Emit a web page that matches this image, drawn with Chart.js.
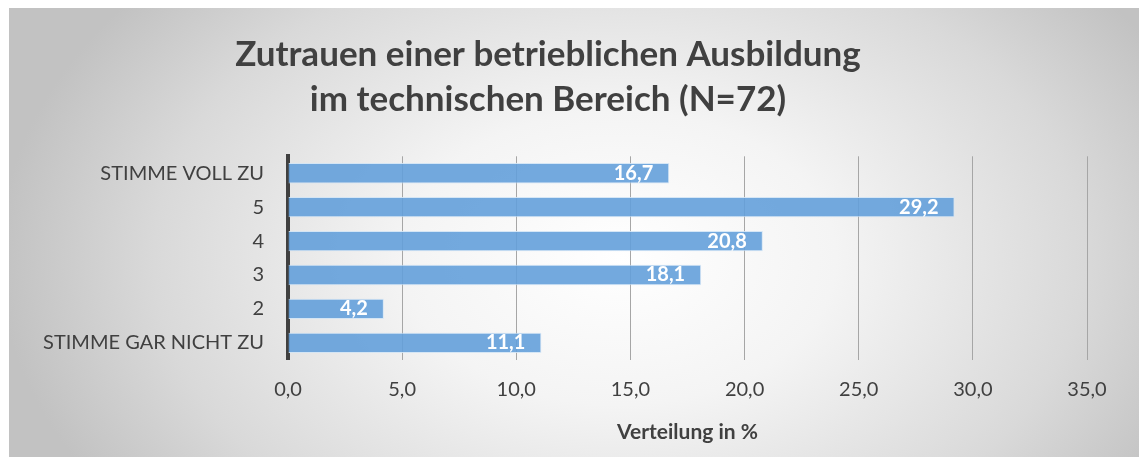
<!DOCTYPE html>
<html>
<head>
<meta charset="utf-8">
<script src="https://cdn.jsdelivr.net/npm/chart.js@4"></script>
<style>
  body{margin:0;background:#fff;}
  #wrap{position:absolute;left:9px;top:8px;width:1130px;height:449px;
    background:radial-gradient(ellipse 620px 420px at 610px 250px,#ffffff 0%,#f4f4f4 35%,#d9d9d9 75%,#c2c2c2 100%);}
</style>
</head>
<body>
<div id="wrap"><canvas id="myChart"></canvas></div>
<script>
const categories=["STIMME VOLL ZU","5","4","3","2","STIMME GAR NICHT ZU"]
const values=[16.7,29.2,20.8,18.1,4.2,11.1]
const xTicks=[0,5,10,15,20,25,30,35]
const chartTitle=["Zutrauen einer betrieblichen Ausbildung","im technischen Bereich (N=72)"]
const axisTitle="Verteilung in %"

const fmt=v=>v.toFixed(1).replace(".",",")

// labels inside the bar end, white bold
const barLabels={
  id:"barLabels",
  afterDatasetsDraw(chart){
    const c=chart.ctx
    const meta=chart.getDatasetMeta(0)
    c.save()
    c.font="bold 20px Lato"
    c.fillStyle="#ffffff"
    c.textAlign="right"
    c.textBaseline="middle"
    meta.data.forEach((bar,i)=>{
      c.fillText(fmt(values[i]),bar.x-16,bar.y)
    })
    c.restore()
  }
}

var ctx=document.getElementById("myChart").getContext("2d")
let myChart=new Chart(ctx,{
  type:"bar",
  data:{
    labels:categories,
    datasets:[{
      data:values,
      backgroundColor:"rgba(100,160,218,0.9)",
      borderColor:"rgba(210,228,245,0.9)",
      borderWidth:1,
      categoryPercentage:0.6,
      barPercentage:1
    }]
  },
  options:{
    indexAxis:"y",
    responsive:true,
    maintainAspectRatio:false,
    animation:false,
    layout:{padding:{top:24,right:52,bottom:12,left:0}},
    plugins:{
      legend:{display:false},
      tooltip:{enabled:false},
      title:{
        display:true,
        text:chartTitle,
        color:"#404040",
        font:{family:"Lato",size:35,weight:"bold",lineHeight:1.29},
        padding:{top:0,bottom:34}
      }
    },
    scales:{
      x:{
        min:0,max:35,
        ticks:{stepSize:5,color:"#404040",font:{family:"Lato",size:20},padding:18,
          callback:v=>fmt(v)},
        grid:{color:"#a6a6a6",lineWidth:1,drawTicks:false},
        border:{display:false},
        title:{display:true,text:axisTitle,color:"#404040",font:{family:"Lato",size:21,weight:"bold"},padding:{top:0,bottom:0}}
      },
      y:{
        ticks:{color:"#404040",font:{family:"Lato",size:20},padding:16},
        grid:{display:false},
        border:{display:true,color:"#404040",width:4},
        afterFit(s){s.width=279}
      }
    }
  },
  plugins:[barLabels]
})
</script>
</body>
</html>
